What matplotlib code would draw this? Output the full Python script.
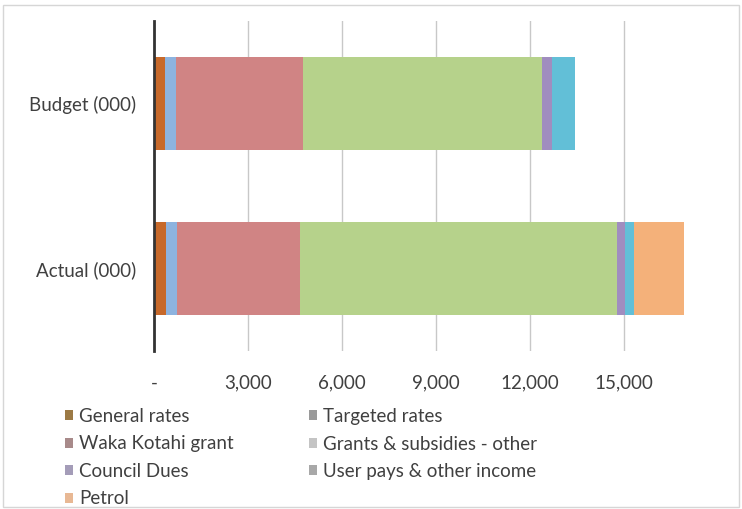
import numpy as np
import matplotlib
matplotlib.use("Agg")
import matplotlib.pyplot as plt
from matplotlib.patches import Patch, Rectangle

plt.rcParams['font.family'] = ['Lato', 'DejaVu Sans']

# categories (top to bottom) and revenue segments, $000
categories = ["Budget (000)", "Actual (000)"]
series = ["General rates", "Targeted rates", "Waka Kotahi grant",
          "Grants & subsidies - other", "Council Dues",
          "User pays & other income", "Petrol"]
budget = [350, 350, 4065, 7610, 338, 724, 0]
actual = [383, 341, 3936, 10107, 265, 298, 1596]

bar_colors = ["#C7692A", "#8DB3DF", "#D08484", "#B6D28B",
              "#A08DBF", "#62BFD7", "#F4B17A"]
# the legend swatches in the source look washed out
legend_colors = ["#9C7A45", "#9A9A9A", "#A88A8A", "#C4C4C4",
                 "#A49CB8", "#A8A8A8", "#E8B894"]

fs = 13.5
txt = "#404040"

fig = plt.figure(figsize=(7.42, 5.09), dpi=100)
ax = fig.add_axes([154 / 742, 1 - 351 / 509, 560 / 742, 330 / 509])

ypos = np.arange(len(categories))[::-1]
vals = np.array([budget, actual])
left = np.zeros(len(categories))
for i, name in enumerate(series):
    ax.barh(ypos, vals[:, i], left=left, height=0.56,
            color=bar_colors[i], zorder=3)
    left += vals[:, i]

ax.set_xlim(0, 17870)
ax.set_ylim(-0.5, 1.5)
ax.set_yticks(ypos)
ax.set_yticklabels(categories, fontsize=fs, color=txt)
ax.set_xticks([0, 3000, 6000, 9000, 12000, 15000])
ax.set_xticklabels(["-", "3,000", "6,000", "9,000", "12,000", "15,000"],
                   fontsize=fs, color=txt)
ax.tick_params(length=0)
ax.tick_params(axis="x", pad=17)
ax.tick_params(axis="y", pad=13)
ax.grid(axis="x", color="#C8C8C8", linewidth=1, zorder=0)
for s in ["top", "right", "bottom"]:
    ax.spines[s].set_visible(False)
ax.spines["left"].set_color("#333333")
ax.spines["left"].set_linewidth(2)
ax.spines["left"].set_zorder(5)

handles = [Patch(facecolor=c, edgecolor="none") for c in legend_colors]
order = [0, 2, 4, 6, 1, 3, 5]
leg = fig.legend([handles[k] for k in order], [series[k] for k in order],
                 loc="upper left", bbox_to_anchor=(65 / 742, 1 - 408 / 509),
                 ncol=2, frameon=False, fontsize=fs,
                 borderpad=0, borderaxespad=0,
                 handlelength=0.45, handleheight=0.45, handletextpad=0.3,
                 columnspacing=4.0, labelspacing=0.56)
for t in leg.get_texts():
    t.set_color(txt)

fig.patches.append(Rectangle((0.004, 0.004), 0.992, 0.986, transform=fig.transFigure,
                             fill=False, edgecolor="#D6D6D6", linewidth=1))

fig.savefig("out.png", dpi=100)
